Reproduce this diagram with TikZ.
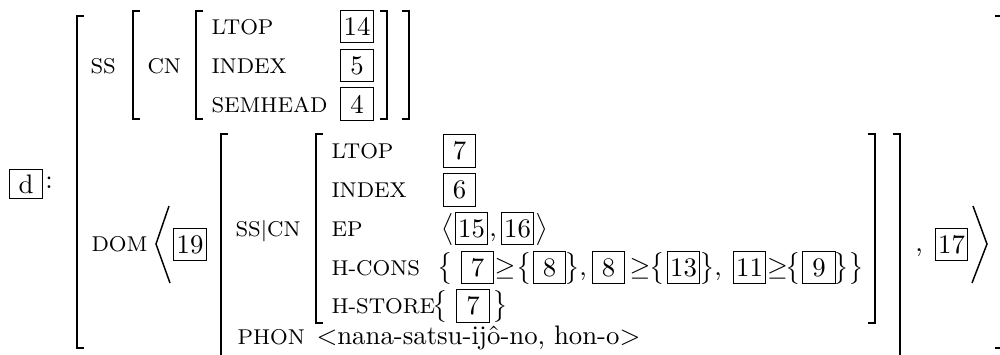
\documentclass[tikz,border=0pt]{standalone}
\begin{document}
\begin{tikzpicture}[x=0.3735pt,y=-0.3735pt,
  brk/.style={line width=0.7pt},
  ang/.style={line width=0.55pt, line join=miter},
  tag/.style={draw, line width=0.4pt, inner sep=0pt, minimum width=12pt, minimum height=12pt},
  feat/.style={anchor=base west, inner sep=0pt, font=\footnotesize},
  val/.style={anchor=base, inner sep=0pt}]
\useasboundingbox (0,0) rectangle (1000,354);
\clip (0,0) rectangle (1000,354);

% tag d
\node[tag, minimum width=12.3pt, minimum height=10.8pt] (d) at (26,184) {d};
\node[val] (colon) at (49,188) {:};

% outer brackets
\draw[brk] (84,16) -- (77,16) -- (77,348) -- (84,348);
\draw[brk] (995,16) -- (1002,16) -- (1002,348) -- (995,348);

% SS part
\node[feat] (ss) at (90,73) {SS};
\draw[brk] (140,11) -- (133,11) -- (133,119) -- (140,119);
\node[feat] (cn) at (147,73) {CN};
\draw[brk] (203,11) -- (196,11) -- (196,119) -- (203,119);
\node[feat] (ltopA) at (211,34) {LTOP};
\node[feat] (indexA) at (211,73) {INDEX};
\node[feat] (semhead) at (211,112) {SEMHEAD};
\node[tag] (t14) at (357,26.5) {14};
\node[tag] (t5) at (357,65.5) {5};
\node[tag] (t4) at (357,104) {4};
\draw[brk] (380,11) -- (387,11) -- (387,119) -- (380,119);
\draw[brk] (402,11) -- (409,11) -- (409,119) -- (402,119);

% DOM part
\node[feat] (dom) at (91,251) {DOM};
\draw[ang] (169,206) -- (156,244) -- (170,283);
\node[tag] (t19) at (190,244.5) {19};
\draw[brk] (228,134) -- (221,134) -- (221,360);
\node[feat] (sscn) at (235,236) {SS$|$CN};
\draw[brk] (323,134) -- (316,134) -- (316,323) -- (323,323);
\node[feat] (ltopB) at (331,158) {LTOP};
\node[feat] (indexB) at (331,197) {INDEX};
\node[feat] (ep) at (331,236) {EP};
\node[feat] (hcons) at (331,275) {H-CONS};
\node[feat] (hstore) at (331,313) {H-STORE};
\node[feat] (phon) at (237,344) {PHON};
\node[anchor=base west, inner sep=0pt] (phonv) at (316,344) {$<$nana-satsu-ijô-no, hon-o$>$};

% LTOP / INDEX values
\node[tag] (t7a) at (459.5,151) {7};
\node[tag] (t6) at (459.5,190) {6};

% EP value
\node[val] (lang) at (448,236) {$\big\langle$};
\node[tag] (t15) at (471.5,228.5) {15};
\node[val] (c1) at (493,236) {,};
\node[tag] (t16) at (517.5,228.5) {16};
\node[val] (rang) at (542,236) {$\big\rangle$};

% H-CONS value
\node[val] (hb1) at (445,275) {$\big\{$};
\node[tag] (t7b) at (477.5,267.5) {7};
\node[val] (g1) at (505,275) {$\geq$};
\node[val] (hb2) at (524,275) {$\big\{$};
\node[tag] (t8a) at (549.5,267.5) {8};
\node[val] (hb3) at (572,275) {$\big\}$};
\node[val] (c2) at (583,275) {,};
\node[tag] (t8b) at (608.5,267.5) {8};
\node[val] (g2) at (640,275) {$\geq$};
\node[val] (hb4) at (657,275) {$\big\{$};
\node[tag] (t13) at (683.5,267.5) {13};
\node[val] (hb5) at (707.5,275) {$\big\}$};
\node[val] (c3) at (718,275) {,};
\node[tag] (t11) at (749.5,267.5) {11};
\node[val] (g3) at (777.5,275) {$\geq$};
\node[val] (hb6) at (793,275) {$\big\{$};
\node[tag] (t9) at (819,267.5) {9};
\node[val] (hb7) at (849,275) {$\big\}\big\}$};

% H-STORE value
\node[val] (sb1) at (440,313) {$\big\{$};
\node[tag] (t7c) at (473,306) {7};
\node[val] (sb2) at (500,313) {$\big\}$};

% closing brackets of lower part
\draw[brk] (868,134) -- (875,134) -- (875,323) -- (868,323);
\draw[brk] (893,134) -- (900,134) -- (900,360);
\node[val] (c4) at (919,251) {,};
\node[tag] (t17) at (951.5,244.5) {17};
\draw[ang] (973,206) -- (987,244) -- (972,283);
\end{tikzpicture}
\end{document}
